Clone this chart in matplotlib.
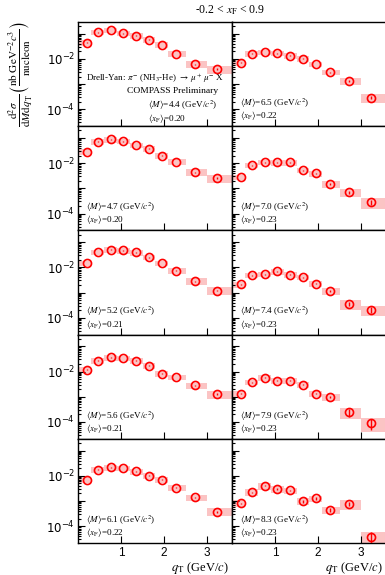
import numpy as np
import matplotlib.pyplot as plt
from matplotlib.ticker import LogLocator, NullFormatter

plt.rcParams['font.family'] = ['Liberation Serif', 'DejaVu Serif']
plt.rcParams['mathtext.fontset'] = 'stix'

# q_T bins (GeV/c) and mean q_T per bin
qt_edges = [0.0, 0.3, 0.6, 0.9, 1.2, 1.5, 1.8, 2.1, 2.5, 3.0, 3.6]
qt = [0.2, 0.47, 0.77, 1.05, 1.35, 1.65, 1.95, 2.27, 2.73, 3.24]

# mean mass and x_F per panel, left column then right column
mass_left = ['4.4', '4.7', '5.2', '5.6', '6.1']
xf_left = ['0.20', '0.20', '0.21', '0.21', '0.22']
mass_right = ['6.5', '7.0', '7.4', '7.9', '8.3']
xf_right = ['0.22', '0.23', '0.23', '0.23', '0.23']

# cross sections d2sigma/dM dqT (nb GeV^-2 c^3 / nucleon)
xs_44 = [0.044, 0.114, 0.141, 0.104, 0.084, 0.058, 0.036, 0.0158, 0.0062, 0.0040]
xs_47 = [0.028, 0.070, 0.087, 0.074, 0.052, 0.038, 0.020, 0.0112, 0.0044, 0.0025]
xs_52 = [0.0148, 0.040, 0.050, 0.047, 0.039, 0.025, 0.0148, 0.0074, 0.0028, 0.0012]
xs_56 = [0.0120, 0.027, 0.036, 0.034, 0.027, 0.0173, 0.0081, 0.0060, 0.0028, 0.0013]
xs_61 = [0.0068, 0.0173, 0.0213, 0.0201, 0.0148, 0.0100, 0.0069, 0.0034, 0.00138, 0.000375]
xs_65 = [0.0071, 0.0158, 0.0189, 0.0168, 0.0135, 0.0103, 0.0063, 0.0030, 0.00131, 0.00029]
xs_70 = [0.0028, 0.0083, 0.0109, 0.0106, 0.0106, 0.0053, 0.0039, 0.00151, 0.00069, 0.00028]
xs_74 = [0.0021, 0.0048, 0.0054, 0.0069, 0.0051, 0.0040, 0.0022, 0.00112, 0.00035, 0.00021]
xs_79 = [0.0013, 0.0038, 0.0056, 0.0044, 0.0044, 0.0030, 0.0013, 0.00096, 0.00024, 0.00009]
xs_83 = [0.0008, 0.0022, 0.0040, 0.0030, 0.0026, 0.00096, 0.00126, 0.00045, 0.00076, 0.000038]

# relative statistical errors
stat_left = [0.03] * 8 + [0.05, 0.08]
stat_65 = [0.04] * 8 + [0.08, 0.15]
stat_70 = [0.04] * 7 + [0.08, 0.12, 0.2]
stat_74 = [0.04] * 7 + [0.08, 0.2, 0.25]
stat_79 = [0.05] * 7 + [0.1, 0.35, 0.45]
stat_83 = [0.06] * 5 + [0.12, 0.12, 0.18, 0.2, 0.5]

# relative systematic errors (shaded boxes)
sys_left = [0.25] * 8 + [0.3, 0.35]
sys_65 = [0.25] * 8 + [0.3, 0.4]
sys_70 = [0.25] * 7 + [0.3, 0.35, 0.45]
sys_74 = [0.25] * 7 + [0.3, 0.4, 0.45]
sys_79 = [0.25] * 7 + [0.3, 0.45, 0.55]
sys_83 = [0.3] * 8 + [0.4, 0.6]

left_col = [(xs_44, stat_left, sys_left), (xs_47, stat_left, sys_left),
            (xs_52, stat_left, sys_left), (xs_56, stat_left, sys_left),
            (xs_61, stat_left, sys_left)]
right_col = [(xs_65, stat_65, sys_65), (xs_70, stat_70, sys_70),
             (xs_74, stat_74, sys_74), (xs_79, stat_79, sys_79),
             (xs_83, stat_83, sys_83)]

W, H = 385, 575
fig = plt.figure(figsize=(W / 100, H / 100), dpi=100)

x0, pw = 78, 154
top, bottom = 22, 543
ph = (bottom - top) / 5
ylo, yhi = 10 ** -4.67, 10 ** -0.535

decades = [1e-4, 1e-3, 1e-2, 1e-1]
decade_labels = [r'$10^{-4}$', '', r'$10^{-2}$', '']


def draw_panel(ax, y, stat, sys, is_left, is_bottom):
    y = np.array(y)
    edges = np.array(qt_edges)
    lo = y * (1 - np.array(sys))
    hi = y * (1 + np.array(sys))
    ax.bar(edges[:-1], hi - lo, width=np.diff(edges), bottom=lo, align='edge',
           color='#fbc4c4', lw=0, zorder=1)
    ax.errorbar(qt, y, yerr=y * np.array(stat), fmt='o', mfc='none', mec='red',
                ecolor='red', ms=5.8, mew=1.2, elinewidth=1.0, capsize=0, zorder=3)
    ax.set_yscale('log')
    ax.set_ylim(ylo, yhi)
    ax.set_xlim(0, 3.58)
    ax.set_yticks(decades, labels=decade_labels)
    ax.yaxis.set_minor_locator(LogLocator(subs=np.arange(2, 10)))
    ax.yaxis.set_minor_formatter(NullFormatter())
    ax.set_xticks([1, 2, 3])
    ax.tick_params(which='both', direction='in', top=False, right=False,
                   width=0.8, labelsize=8.5, pad=2)
    ax.tick_params(axis='x', pad=3)
    ax.tick_params(which='major', length=5)
    ax.tick_params(which='minor', length=2.5)
    ax.tick_params(axis='y', labelleft=is_left)
    ax.tick_params(axis='x', labelbottom=is_bottom)
    for lab in ax.get_xticklabels() + ax.get_yticklabels():
        lab.set_family('Liberation Sans')
        lab.set_math_fontfamily('dejavusans')
    for sp in ax.spines.values():
        sp.set_linewidth(1.0)


for row in range(5):
    ytop = top + row * ph
    for col, data in enumerate([left_col, right_col]):
        left = x0 + col * pw
        ax = fig.add_axes([left / W, 1 - (ytop + ph) / H, pw / W, ph / H])
        y, stat, sys = data[row]
        draw_panel(ax, y, stat, sys, col == 0, row == 4)
        mass = (mass_left if col == 0 else mass_right)[row]
        xf = (xf_left if col == 0 else xf_right)[row]
        if row == 0 and col == 0:
            ax.text(0.05, 0.46, r'Drell-Yan: $\pi^{-}$ (NH$_3$-He) $\rightarrow$ $\mu^{+}$ $\mu^{-}$ X',
                    transform=ax.transAxes, fontsize=6.5, va='center')
            ax.text(0.91, 0.335, 'COMPASS Preliminary', transform=ax.transAxes,
                    fontsize=6.8, ha='right', va='center')
            tx, ty1, ty2 = 0.455, 0.2, 0.075
        else:
            tx, ty1, ty2 = 0.05, 0.22, 0.1
        ax.text(tx, ty1, r'$\langle M\rangle$=%s (GeV/$c^2$)' % mass,
                transform=ax.transAxes, fontsize=6.6, va='center')
        ax.text(tx, ty2, r'$\langle x_{\mathrm{F}}\rangle$=%s' % xf,
                transform=ax.transAxes, fontsize=6.6, va='center')
        if row == 4:
            ax.text(0.975, -0.165, r'$q_{\mathrm{T}}$ (GeV/$c$)', transform=ax.transAxes,
                    fontsize=9, ha='right', va='top')

fig.text(230 / W, 1 - 10 / H, r'-0.2 < $x_{\mathrm{F}}$ < 0.9', fontsize=8.5,
         ha='center', va='center')
fig.text(21 / W, 1 - 74 / H,
         r'$\frac{\mathrm{d}^{2}\sigma}{\mathrm{d}M\mathrm{d}q_{\mathrm{T}}}'
         r'\left(\frac{\mathrm{nb\ GeV}^{-2}c^{3}}{\mathrm{nucleon}}\right)$',
         rotation=90, fontsize=11.5, ha='center', va='center')

fig.savefig('out.png', dpi=100)
